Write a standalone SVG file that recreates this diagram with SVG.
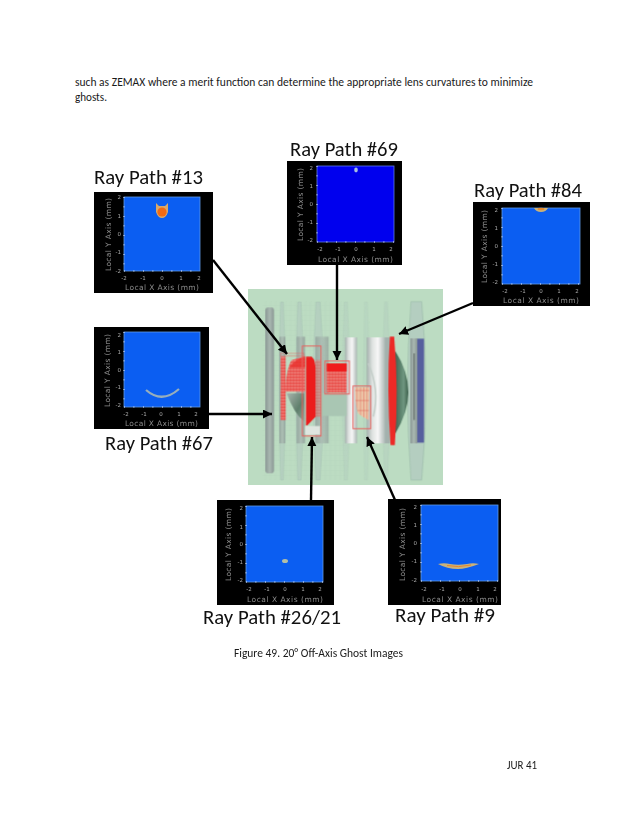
<svg xmlns="http://www.w3.org/2000/svg" width="638" height="826" viewBox="0 0 638 826">
<style>
.body{font-family:"Carlito","Lato","Liberation Sans",sans-serif;font-size:11.5px;fill:#1a1a1a}
.lab{font-family:"Carlito","Lato","Liberation Sans",sans-serif;font-size:20px;fill:#111}
.bg{fill:#000}
.plotA{fill:#0b5ef2;stroke:#5f9ae6;stroke-width:.8}
.plotB{fill:#0000ee;stroke:#5f7ae6;stroke-width:.8}
.ax{font-family:"DejaVu Sans",sans-serif;font-size:7.5px;fill:#8a8a8a;filter:url(#txt)}
.tk{font-family:"DejaVu Sans",sans-serif;font-size:5.5px;fill:#a8a8a8;text-anchor:middle;filter:url(#txt)}
.ty{font-family:"DejaVu Sans",sans-serif;font-size:5.5px;fill:#a8a8a8;text-anchor:end;filter:url(#txt)}
.tick{fill:none;stroke:#c8d4ee;stroke-width:1.6;stroke-dasharray:.8 8.7}
.conn{stroke:#000;stroke-width:2.4;fill:none;marker-end:url(#ah)}
.pale{fill:#b3cdbf;stroke:#a2bfb0;stroke-width:1.500}
.box{fill:none;stroke:#e8625e;stroke-width:3}
</style>
<defs>
<marker id="ah" markerUnits="userSpaceOnUse" markerWidth="10" markerHeight="10" refX="9" refY="4.500" orient="auto"><path d="M0,0L9,4.500L0,9Z" fill="#000"/></marker>
<pattern id="mesh" width="9" height="9" patternUnits="userSpaceOnUse"><rect width="9" height="9" fill="#f0938c"/><path d="M0,0H9M0,4.500H9M0,0V9" stroke="#e61e1e" stroke-width="2"/></pattern>
<pattern id="mesh2" width="10" height="30" patternUnits="userSpaceOnUse"><path d="M0,0H10M0,0V30" stroke="#dc3a36" stroke-width="2"/></pattern>
<pattern id="gridf" width="15" height="15" patternUnits="userSpaceOnUse"><path d="M0,0H15M0,0V15" stroke="#a6c6b3" stroke-width="1"/></pattern>
<linearGradient id="w" x1="0" x2="1" y1="0" y2="0"><stop offset="0" stop-color="#a3afac"/><stop offset=".3" stop-color="#dfe3e1"/><stop offset=".6" stop-color="#f7f7f7"/><stop offset="1" stop-color="#aab6b3"/></linearGradient>
<linearGradient id="g" x1="0" x2="1" y1="0" y2="0"><stop offset="0" stop-color="#8b9895"/><stop offset=".5" stop-color="#a9b8b1"/><stop offset="1" stop-color="#8b9895"/></linearGradient>
<linearGradient id="dome" x1="0" x2="1" y1="0" y2="0"><stop offset="0" stop-color="#3f6450"/><stop offset=".65" stop-color="#6f9680"/><stop offset="1" stop-color="#3d5f4c"/></linearGradient>
<linearGradient id="sph" x1="0" x2="1" y1="0" y2="1"><stop offset="0" stop-color="#a9b5ae"/><stop offset=".6" stop-color="#5f7f6c"/><stop offset="1" stop-color="#8aa897"/></linearGradient>
<filter id="soft" x="-5%" y="-5%" width="110%" height="110%"><feGaussianBlur stdDeviation="1.300"/></filter>
<filter id="txt" x="-10%" y="-20%" width="120%" height="140%"><feGaussianBlur stdDeviation=".3"/></filter>
</defs>

<text class="body" x="75" y="86" textLength="458" lengthAdjust="spacingAndGlyphs">such as ZEMAX where a merit function can determine the appropriate lens curvatures to minimize</text>
<text class="body" x="75" y="101" textLength="32" lengthAdjust="spacingAndGlyphs">ghosts.</text>

<rect id="lens-backdrop" x="248" y="289" width="195" height="196" fill="#bcdcc2"/>
<g id="lens-assembly" transform="translate(230 280) scale(.3333)" filter="url(#soft)">
<rect x="98" y="65" width="252" height="535" fill="url(#gridf)" opacity=".55"/>
<path class="pale" d="M152,66H160Q172,330 160,600H152Q142,330 152,66Z" opacity=".8"/>
<path class="pale" d="M203,66H213Q228,330 213,600H203Q192,330 203,66Z" opacity=".8"/>
<path class="pale" d="M258,66H270Q292,330 270,600H258Q240,330 258,66Z" opacity=".8"/>
<path class="pale" d="M343,66H352Q368,330 352,600H343Q330,330 343,66Z" opacity=".45"/>
<path class="pale" d="M404,66H412Q424,330 412,600H404Q396,330 404,66Z" opacity=".35"/>
<path class="pale" d="M464,66H472Q488,330 472,600H464Q452,330 464,66Z" opacity=".45"/>
<path d="M543,65H575Q600,330 575,600H543Q522,330 543,65Z" fill="#b4cec0" stroke="#9dbcab" stroke-width="2"/>
<rect x="106" y="82" width="26" height="498" rx="9" fill="url(#g)"/>
<rect x="148" y="170" width="18" height="320" fill="url(#g)" opacity=".75"/>
<rect x="200" y="170" width="25" height="320" fill="url(#g)" opacity=".75"/>
<rect x="256" y="170" width="40" height="320" fill="url(#g)" opacity=".65"/>
<rect x="345" y="172" width="36" height="318" fill="url(#w)"/>
<rect x="410" y="172" width="56" height="318" fill="url(#w)"/>
<path d="M415,250Q450,330 430,410" fill="none" stroke="#c5cfca" stroke-width="5"/>
<rect x="465" y="172" width="15" height="318" fill="#a3b1ad"/>
<path d="M170,340H222V425Q192,400 170,340Z" fill="url(#sph)"/>
<rect x="272" y="340" width="78" height="68" fill="#a9c6b3"/>
<path d="M495,212Q575,335 495,462Z" fill="url(#dome)"/>
<rect x="541" y="175" width="21" height="315" fill="url(#g)"/>
<rect x="551" y="220" width="3" height="200" fill="#555f5c"/>
<rect x="562" y="176" width="20" height="312" fill="#565f9e"/>
<rect x="152" y="230" width="15" height="190" fill="url(#mesh)"/>
<path d="M165,335Q170,260 185,240L225,228V335Z" fill="url(#mesh)"/>
<path d="M178,262Q200,235 225,230V262Z" fill="#e8322e" opacity=".8"/>
<path d="M228,230H245Q258,240 257,280V410L232,436H228Z" fill="#ec1c1c"/>
<rect x="256" y="240" width="16" height="170" fill="url(#mesh)" opacity=".5"/>
<rect x="225" y="438" width="45" height="26" fill="#dfe6e0"/>
<rect class="box" x="217" y="198" width="56" height="270"/>
<rect class="box" x="152" y="220" width="70" height="8" opacity=".5"/>
<rect x="290" y="250" width="60" height="88" fill="url(#mesh)"/>
<rect x="290" y="250" width="60" height="24" fill="#ef1f1f"/>
<rect class="box" x="285" y="243" width="73" height="99"/>
<path d="M375,322H418L416,420Q395,410 384,400Q375,370 375,322Z" fill="#ecc4a6"/>
<path d="M375,322H418L416,420Q395,410 384,400Q375,370 375,322Z" fill="url(#mesh2)"/>
<rect class="box" x="369" y="318" width="53" height="128"/>
<path d="M486,170Q500,330 488,495Q476,330 486,170Z" fill="#ec2a28" stroke="#ec2a28" stroke-width="13"/>
</g>

<g id="connectors">
<path class="conn" d="M213,260L287,354"/>
<path class="conn" d="M337,265V360"/>
<path class="conn" d="M473,303L399,334"/>
<path class="conn" d="M209,414H272"/>
<path class="conn" d="M311,500L312,437"/>
<path class="conn" d="M395,500L367,437"/>
</g>

<g id="panel-13">
<text class="lab" x="94" y="184" textLength="109" lengthAdjust="spacingAndGlyphs">Ray Path #13</text>
<rect class="bg" x="94" y="192" width="119" height="101"/>
<rect class="plotA" x="124" y="197" width="76" height="74"/>
<path class="tick" d="M124,271H200M124,197V271"/>
<path d="M156,203L159,206L165,206L168,203L168,212Q166,218 162,218Q158,218 156,212Z" fill="#d9a86a" filter="url(#txt)"/>
<circle cx="162" cy="212" r="4.600" fill="#f26a14"/>
<text class="ty" x="121" y="199">2</text><text class="ty" x="121" y="218">1</text><text class="ty" x="121" y="236">0</text><text class="ty" x="121" y="254">-1</text><text class="ty" x="121" y="273">-2</text>
<text class="tk" x="124" y="280">-2</text><text class="tk" x="143" y="280">-1</text><text class="tk" x="162" y="280">0</text><text class="tk" x="181" y="280">1</text><text class="tk" x="199" y="280">2</text>
<text class="ax" x="125" y="290" textLength="74">Local X Axis (mm)</text>
<text class="ax" transform="translate(111 271) rotate(-90)" textLength="73">Local Y Axis (mm)</text>
</g>

<g id="panel-69">
<text class="lab" x="290" y="156" textLength="108" lengthAdjust="spacingAndGlyphs">Ray Path #69</text>
<rect class="bg" x="287" y="161" width="115" height="104"/>
<rect class="plotB" x="317" y="166" width="77" height="76"/>
<path class="tick" d="M317,242H394M317,166V242"/>
<ellipse cx="356" cy="170" rx="1.800" ry="2.400" fill="#a8bfe0"/>
<text class="ty" x="313" y="170">2</text><text class="ty" x="313" y="188">1</text><text class="ty" x="313" y="206">0</text><text class="ty" x="313" y="224">-1</text><text class="ty" x="313" y="242">-2</text>
<text class="tk" x="320" y="251">-2</text><text class="tk" x="338" y="251">-1</text><text class="tk" x="356" y="251">0</text><text class="tk" x="374" y="251">1</text><text class="tk" x="391" y="251">2</text>
<text class="ax" x="318" y="262" textLength="75">Local X Axis (mm)</text>
<text class="ax" transform="translate(303 241) rotate(-90)" textLength="73">Local Y Axis (mm)</text>
</g>

<g id="panel-84">
<text class="lab" x="474" y="197" textLength="108" lengthAdjust="spacingAndGlyphs">Ray Path #84</text>
<rect class="bg" x="473" y="202" width="117" height="104"/>
<rect class="plotA" x="502" y="208" width="78" height="76"/>
<path class="tick" d="M502,284H580M502,208V284"/>
<path d="M534,208H548Q546,212 541,212Q536,212 534,208Z" fill="#c9b27a"/>
<ellipse cx="541" cy="209" rx="3.500" ry="1.200" fill="#e98a2c"/>
<text class="ty" x="498" y="212">2</text><text class="ty" x="498" y="230">1</text><text class="ty" x="498" y="248">0</text><text class="ty" x="498" y="266">-1</text><text class="ty" x="498" y="284">-2</text>
<text class="tk" x="505" y="293">-2</text><text class="tk" x="523" y="293">-1</text><text class="tk" x="541" y="293">0</text><text class="tk" x="559" y="293">1</text><text class="tk" x="577" y="293">2</text>
<text class="ax" x="503" y="303" textLength="76">Local X Axis (mm)</text>
<text class="ax" transform="translate(487 283) rotate(-90)" textLength="73">Local Y Axis (mm)</text>
</g>

<g id="panel-67">
<rect class="bg" x="94" y="327" width="115" height="102"/>
<rect class="plotA" x="124" y="332" width="76" height="75"/>
<path class="tick" d="M124,407H200M124,332V407"/>
<path d="M146,390Q162,404 179,389" fill="none" stroke="#97aebc" stroke-width="2.200"/>
<text class="ty" x="121" y="337">2</text><text class="ty" x="121" y="354">1</text><text class="ty" x="121" y="372">0</text><text class="ty" x="121" y="389">-1</text><text class="ty" x="121" y="407">-2</text>
<text class="tk" x="126" y="416">-2</text><text class="tk" x="144" y="416">-1</text><text class="tk" x="161" y="416">0</text><text class="tk" x="179" y="416">1</text><text class="tk" x="196" y="416">2</text>
<text class="ax" x="125" y="426" textLength="73">Local X Axis (mm)</text>
<text class="ax" transform="translate(110 407) rotate(-90)" textLength="73">Local Y Axis (mm)</text>
<text class="lab" x="105" y="450" textLength="108" lengthAdjust="spacingAndGlyphs">Ray Path #67</text>
</g>

<g id="panel-26-21">
<rect class="bg" x="217" y="500" width="117" height="105"/>
<rect class="plotA" x="246" y="506" width="77" height="76"/>
<path class="tick" d="M246,582H323M246,506V582"/>
<ellipse cx="285" cy="561" rx="3" ry="2" fill="#b3bfa6"/>
<text class="ty" x="243" y="510">2</text><text class="ty" x="243" y="529">1</text><text class="ty" x="243" y="546">0</text><text class="ty" x="243" y="564">-1</text><text class="ty" x="243" y="582">-2</text>
<text class="tk" x="249" y="591">-2</text><text class="tk" x="267" y="591">-1</text><text class="tk" x="285" y="591">0</text><text class="tk" x="303" y="591">1</text><text class="tk" x="320" y="591">2</text>
<text class="ax" x="247" y="602" textLength="76">Local X Axis (mm)</text>
<text class="ax" transform="translate(231 581) rotate(-90)" textLength="73">Local Y Axis (mm)</text>
<text class="lab" x="203" y="624" textLength="138" lengthAdjust="spacingAndGlyphs">Ray Path #26/21</text>
</g>

<g id="panel-9">
<rect class="bg" x="388" y="499" width="113" height="106"/>
<rect class="plotA" x="421" y="505" width="77" height="76"/>
<path class="tick" d="M421,581H498M421,505V581"/>
<path d="M438,564Q444,562.500 450,564Q458,565.500 467,564Q473,562.500 479,564Q466,569 458,569Q447,569 438,564Z" fill="#c8b27c"/>
<path d="M447,565.500Q458,568 471,565" fill="none" stroke="#e8862c" stroke-width="1"/>
<text class="ty" x="417" y="509">2</text><text class="ty" x="417" y="527">1</text><text class="ty" x="417" y="545">0</text><text class="ty" x="417" y="563">-1</text><text class="ty" x="417" y="582">-2</text>
<text class="tk" x="424" y="591">-2</text><text class="tk" x="442" y="591">-1</text><text class="tk" x="460" y="591">0</text><text class="tk" x="478" y="591">1</text><text class="tk" x="495" y="591">2</text>
<text class="ax" x="422" y="602" textLength="76">Local X Axis (mm)</text>
<text class="ax" transform="translate(405 581) rotate(-90)" textLength="73">Local Y Axis (mm)</text>
<text class="lab" x="395" y="622" textLength="100" lengthAdjust="spacingAndGlyphs">Ray Path #9</text>
</g>

<text class="body" x="234" y="657" textLength="169" lengthAdjust="spacingAndGlyphs">Figure 49. 20° Off-Axis Ghost Images</text>
<text class="body" x="507" y="769" textLength="30" lengthAdjust="spacingAndGlyphs">JUR 41</text>
</svg>
